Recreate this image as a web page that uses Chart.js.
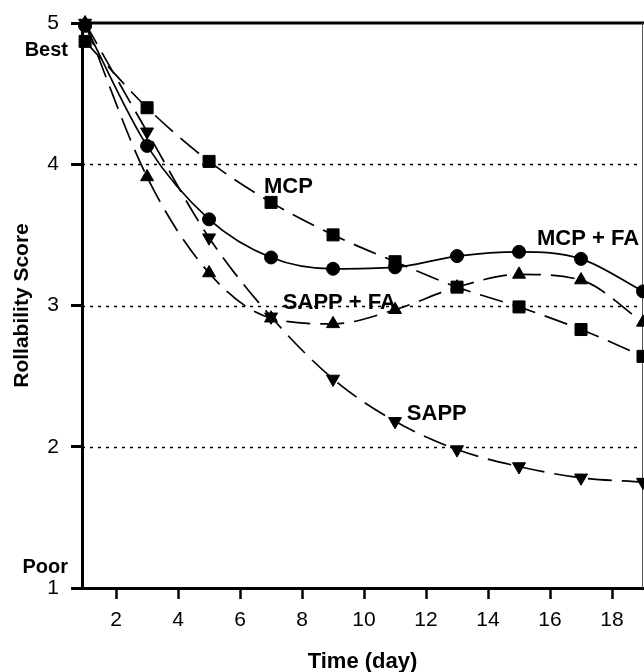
<!DOCTYPE html>
<html>
<head>
<meta charset="utf-8">
<script src="https://cdn.jsdelivr.net/npm/chart.js@4/dist/chart.umd.min.js"></script>
<style>
  html, body { margin: 0; padding: 0; background: #fff; overflow: hidden; }
  #wrap { width: 644px; height: 672px; }
</style>
</head>
<body>
<div id="wrap"><canvas id="chart"></canvas></div>
<script>
// days sampled
const days = [1, 3, 5, 7, 9, 11, 13, 15, 17, 19];
// rollability scores
const mcp = [4.87, 4.40, 4.02, 3.73, 3.50, 3.31, 3.13, 2.99, 2.83, 2.64];
const mcpFa = [4.98, 4.13, 3.61, 3.34, 3.26, 3.27, 3.35, 3.38, 3.33, 3.10];
const sappFa = [5.0, 3.91, 3.23, 2.91, 2.87, 2.97, 3.13, 3.22, 3.18, 2.88];
const sapp = [5.0, 4.23, 3.48, 2.92, 2.48, 2.18, 1.98, 1.86, 1.78, 1.75];

const xTicks = [2, 4, 6, 8, 10, 12, 14, 16, 18];
const yTicks = [1, 2, 3, 4, 5];
const gridValues = [2, 3, 4];

// series labels placed inside the plot (day, score at left/middle of text)
const seriesLabels = [
    { text: 'MCP', x: 6.77, y: 3.84 },
    { text: 'MCP + FA', x: 15.58, y: 3.47 },
    { text: 'SAPP + FA', x: 7.38, y: 3.02 },
    { text: 'SAPP', x: 11.38, y: 2.23 }
];

const toPoints = (vals) => vals.map((v, i) => ({ x: days[i], y: v }));

const FONT = '"Liberation Sans", Arial, Helvetica, sans-serif';

const makeSet = (label, vals, style, rotation, dash, radius) => ({
    label: label,
    data: toPoints(vals),
    borderColor: '#000',
    backgroundColor: '#000',
    borderWidth: 1.7,
    borderDash: dash,
    pointStyle: style,
    rotation: rotation,
    pointRadius: radius,
    pointBorderWidth: 1,
    pointBackgroundColor: '#000',
    pointBorderColor: '#000',
    cubicInterpolationMode: 'monotone',
    clip: false
});

// dotted reference lines, frame and text labels
const decorations = {
    id: 'decorations',
    beforeDatasetsDraw(chart) {
        const { ctx, chartArea, scales } = chart;
        ctx.save();
        ctx.strokeStyle = '#000';
        ctx.lineWidth = 1.6;
        ctx.setLineDash([3, 5]);
        gridValues.forEach(v => {
            const y = Math.round(scales.y.getPixelForValue(v)) + 0.5;
            ctx.beginPath();
            ctx.moveTo(chartArea.left, y);
            ctx.lineTo(chartArea.right, y);
            ctx.stroke();
        });
        ctx.setLineDash([]);
        // top frame line at 5
        ctx.lineWidth = 3;
        const yTop = scales.y.getPixelForValue(5);
        ctx.beginPath();
        ctx.moveTo(chartArea.left, yTop);
        ctx.lineTo(chartArea.right + 2, yTop);
        ctx.stroke();
        // right frame
        ctx.lineWidth = 1;
        ctx.strokeStyle = '#555';
        ctx.beginPath();
        ctx.moveTo(chartArea.right - 0.5, yTop);
        ctx.lineTo(chartArea.right - 0.5, chartArea.bottom);
        ctx.stroke();
        ctx.restore();
    },
    afterDraw(chart) {
        const { ctx, scales } = chart;
        ctx.save();
        ctx.fillStyle = '#000';
        ctx.font = 'bold 22px ' + FONT;
        ctx.textBaseline = 'middle';
        ctx.textAlign = 'left';
        seriesLabels.forEach(l => {
            ctx.fillText(l.text, scales.x.getPixelForValue(l.x), scales.y.getPixelForValue(l.y));
        });
        // Best / Poor beside the y axis
        ctx.font = 'bold 20px ' + FONT;
        ctx.textAlign = 'right';
        const lx = 68;
        ctx.fillText('Best', lx, scales.y.getPixelForValue(5) + 27);
        ctx.fillText('Poor', lx, scales.y.getPixelForValue(1) - 21);
        ctx.restore();
    }
};

new Chart(document.getElementById('chart'), {
    type: 'line',
    data: {
        datasets: [
            makeSet('MCP', mcp, 'rect', 0, [24, 10], 8.5),
            makeSet('MCP + FA', mcpFa, 'circle', 0, [], 6.5),
            makeSet('SAPP + FA', sappFa, 'triangle', 0, [24, 10], 7.5),
            makeSet('SAPP', sapp, 'triangle', 180, [24, 10], 7.5)
        ]
    },
    options: {
        responsive: true,
        maintainAspectRatio: false,
        animation: false,
        layout: { autoPadding: false, padding: { top: 23, right: 1, left: 0, bottom: 0 } },
        plugins: {
            legend: { display: false },
            tooltip: { enabled: false }
        },
        scales: {
            x: {
                type: 'linear',
                min: 0.9,
                max: 19,
                afterBuildTicks: (axis) => { axis.ticks = xTicks.map(v => ({ value: v })); },
                afterFit: (axis) => {
                    axis.height = 84;
                    axis.paddingLeft = 0;
                    axis.paddingRight = 0;
                },
                ticks: {
                    color: '#000',
                    font: { family: FONT, size: 21 },
                    padding: 9,
                    maxRotation: 0
                },
                grid: {
                    drawOnChartArea: false,
                    drawTicks: true,
                    tickLength: 11,
                    tickWidth: 2.5,
                    tickColor: '#000'
                },
                border: { color: '#000', width: 3 },
                title: {
                    display: true,
                    text: 'Time (day)',
                    color: '#000',
                    font: { family: FONT, size: 22, weight: 'bold' },
                    padding: { top: 4, bottom: -3 }
                }
            },
            y: {
                type: 'linear',
                min: 1,
                max: 5,
                afterBuildTicks: (axis) => { axis.ticks = yTicks.map(v => ({ value: v })); },
                afterFit: (axis) => {
                    axis.width = 82;
                    axis.paddingTop = 0;
                    axis.paddingBottom = 0;
                },
                ticks: {
                    color: '#000',
                    font: { family: FONT, size: 21 },
                    padding: 12
                },
                grid: {
                    drawOnChartArea: false,
                    drawTicks: true,
                    tickLength: 11,
                    tickWidth: 3,
                    tickColor: '#000'
                },
                border: { color: '#000', width: 3 },
                title: {
                    display: true,
                    text: 'Rollability Score',
                    color: '#000',
                    font: { family: FONT, size: 21, weight: 'bold' },
                    padding: { top: 10, bottom: 0 }
                }
            }
        }
    },
    plugins: [decorations]
});
</script>
</body>
</html>
